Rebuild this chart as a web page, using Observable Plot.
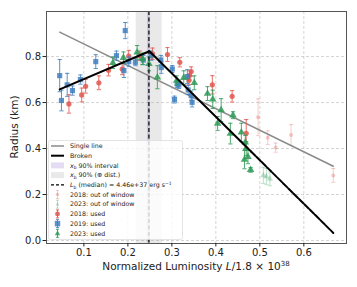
<!DOCTYPE html>
<html><head><meta charset="utf-8">
<script src="https://cdn.jsdelivr.net/npm/d3@7"></script>
<script src="https://cdn.jsdelivr.net/npm/@observablehq/plot@0.6"></script>
<style>
body{margin:0;background:#fff;font-family:"DejaVu Sans",sans-serif;}
#wrap{position:relative;width:357px;height:287px;overflow:hidden;}
#wrap svg.plot{position:absolute;left:0;top:0;}
#xlab{position:absolute;left:46px;width:300px;top:260px;line-height:12px;text-align:center;font-size:10.5px;color:#222;white-space:nowrap;}
#xlab sup{font-size:7px;vertical-align:4px;line-height:0;}
#ylab{position:absolute;left:14px;top:127px;transform:translate(-50%,-50%) rotate(-90deg);font-size:10.5px;color:#222;white-space:nowrap;}
#legend{position:absolute;left:0;top:0;}
</style></head><body>
<div id="wrap"></div>
<script>
// ---- data ----
const xTicks = [0.1, 0.2, 0.3, 0.4, 0.5, 0.6];
const yTicks = [0.0, 0.2, 0.4, 0.6, 0.8];

// 2019: used (blue squares)
const x2019 = [0.045,0.049,0.062,0.074,0.092,0.127,0.174,0.191,0.194,0.202,0.217,0.235,0.253,0.275,0.276,0.301,0.306,0.312,0.316,0.335,0.337,0.344,0.346];
const y2019 = [0.717,0.609,0.677,0.652,0.700,0.778,0.804,0.739,0.913,0.778,0.775,0.785,0.804,0.785,0.752,0.746,0.613,0.681,0.676,0.713,0.655,0.630,0.601];
const e2019 = [0.070,0.045,0.050,0.020,0.020,0.030,0.020,0.030,0.035,0.020,0.015,0.020,0.020,0.020,0.025,0.015,0.015,0.015,0.015,0.030,0.020,0.020,0.020];

// 2018: used (red circles)
const x2018 = [0.066,0.095,0.104,0.134,0.156,0.187,0.202,0.227,0.256,0.290,0.318,0.344,0.340,0.339,0.392,0.437,0.469];
const y2018 = [0.594,0.633,0.671,0.686,0.741,0.746,0.802,0.804,0.812,0.809,0.775,0.735,0.718,0.697,0.677,0.627,0.466];
const e2018 = [0.040,0.030,0.030,0.030,0.025,0.025,0.025,0.020,0.025,0.030,0.020,0.020,0.020,0.020,0.040,0.025,0.060];

// 2023: used (green triangles)
const x2023 = [0.166,0.190,0.221,0.233,0.248,0.267,0.311,0.327,0.351,0.381,0.393,0.412,0.404,0.439,0.433,0.458,0.469,0.465,0.473,0.479,0.467];
const y2023 = [0.773,0.795,0.818,0.790,0.768,0.710,0.696,0.708,0.686,0.639,0.614,0.567,0.509,0.545,0.465,0.470,0.400,0.352,0.364,0.307,0.427];
const e2023 = [0.025,0.025,0.030,0.025,0.030,0.050,0.020,0.030,0.030,0.030,0.040,0.050,0.030,0.015,0.045,0.040,0.030,0.040,0.030,0.010,0.030];

// out of window
const xOut2018 = [0.496,0.518,0.536,0.571,0.667];
const yOut2018 = [0.536,0.447,0.404,0.459,0.283];
const eOut2018 = [0.080,0.030,0.020,0.045,0.030];
const xOut2023 = [0.508,0.515,0.523];
const yOut2023 = [0.283,0.278,0.268];
const eOut2023 = [0.035,0.035,0.030];

// fits
const singleX = [0.045, 0.667];
const singleY = [0.906, 0.323];
const brokenX = [0.045, 0.249, 0.480];
const brokenY = [0.657, 0.823, 0.387];
const extrapX = [0.480, 0.667];
const extrapY = [0.387, 0.033];
const Lb = 0.2478;           // 4.46e37 / 1.8e38
const xbInterval = [0.2445, 0.2515];
const xbDist = [0.219, 0.278];

const colRed = "#e0574f", colBlue = "#3f7fc0", colGreen = "#2f9a57";

// ---- helpers ----
const pts = (xs, ys, es) => xs.map((x, i) => ({x, y: ys[i], e: es ? es[i] : 0}));
const line = (xs, ys) => xs.map((x, i) => ({x, y: ys[i]}));
const capSymbol = {draw(ctx, size) { const w = Math.sqrt(size); ctx.moveTo(-w, 0); ctx.lineTo(w, 0); }};

function errMarks(data, color, op) {
  return [
    Plot.ruleX(data, {x: "x", y1: d => d.y - d.e, y2: d => d.y + d.e, stroke: color, strokeOpacity: op, strokeWidth: 1}),
    Plot.dot(data, {x: "x", y: d => d.y - d.e, symbol: capSymbol, r: 1.2, stroke: color, strokeOpacity: op, fill: "none", strokeWidth: 1}),
    Plot.dot(data, {x: "x", y: d => d.y + d.e, symbol: capSymbol, r: 1.2, stroke: color, strokeOpacity: op, fill: "none", strokeWidth: 1})
  ];
}

const d2018 = pts(x2018, y2018, e2018), d2019 = pts(x2019, y2019, e2019), d2023 = pts(x2023, y2023, e2023);
const o2018 = pts(xOut2018, yOut2018, eOut2018), o2023 = pts(xOut2023, yOut2023, eOut2023);

const chart = Plot.plot({
  width: 357, height: 287,
  marginTop: 11, marginRight: 11, marginBottom: 44, marginLeft: 46,
  style: {fontFamily: "DejaVu Sans, sans-serif", fontSize: "10px", color: "#222", background: "#fff"},
  x: {domain: [0.015, 0.697]},
  y: {domain: [-0.013, 0.996]},
  marks: [
    Plot.gridX(xTicks, {stroke: "#aaa", strokeOpacity: 0.5, strokeDasharray: "3,2"}),
    Plot.gridY(yTicks, {stroke: "#aaa", strokeOpacity: 0.5, strokeDasharray: "3,2"}),
    Plot.rect([{a: xbDist[0], b: xbDist[1]}], {x1: "a", x2: "b", fill: "#999", fillOpacity: 0.22}),
    Plot.rect([{a: xbInterval[0], b: xbInterval[1]}], {x1: "a", x2: "b", fill: "#9575cd", fillOpacity: 0.3}),
    ...errMarks(o2018, colRed, 0.3),
    Plot.dot(o2018, {x: "x", y: "y", r: 2, fill: colRed, fillOpacity: 0.3}),
    ...errMarks(o2023, colGreen, 0.3),
    Plot.dot(o2023, {x: "x", y: "y", symbol: "triangle", r: 2.3, fill: colGreen, fillOpacity: 0.3}),
    Plot.line(line(singleX, singleY), {x: "x", y: "y", stroke: "#8a8a8a", strokeWidth: 1.5}),
    ...errMarks(d2018, colRed, 0.85),
    Plot.dot(d2018, {x: "x", y: "y", r: 2.6, fill: colRed, fillOpacity: 0.85}),
    ...errMarks(d2019, colBlue, 0.85),
    Plot.dot(d2019, {x: "x", y: "y", symbol: "square", r: 2.9, fill: colBlue, fillOpacity: 0.85}),
    ...errMarks(d2023, colGreen, 0.85),
    Plot.dot(d2023, {x: "x", y: "y", symbol: "triangle", r: 2.8, fill: colGreen, fillOpacity: 0.85}),
    Plot.line(line(brokenX, brokenY), {x: "x", y: "y", stroke: "#000", strokeWidth: 2}),
    Plot.line(line(extrapX, extrapY), {x: "x", y: "y", stroke: "#000", strokeWidth: 2, strokeDasharray: "6,1.5"}),
    Plot.ruleX([Lb], {stroke: "#000", strokeWidth: 1.2, strokeDasharray: "4,2.5"}),
    Plot.frame({stroke: "#555", strokeWidth: 1}),
    Plot.axisX(xTicks, {tickSize: 3.5, tickPadding: 2, tickFormat: d3.format(".1f"), label: null, fontSize: 10}),
    Plot.axisY(yTicks, {tickSize: 3.5, tickPadding: 2, tickFormat: d3.format(".1f"), label: null, fontSize: 10})
  ]
});
chart.classList.add("plot");
const wrap = document.getElementById("wrap");
wrap.appendChild(chart);

const xl = document.createElement("div");
xl.id = "xlab";
xl.innerHTML = "Normalized Luminosity <i>L</i>/1.8 × 10<sup>38</sup>";
wrap.appendChild(xl);
const yl = document.createElement("div");
yl.id = "ylab";
yl.textContent = "Radius (km)";
wrap.appendChild(yl);

// ---- legend (inside the axes, lower left) ----
const legendItems = [
  {kind: "line", color: "#8a8a8a", w: 1.5, label: "Single line"},
  {kind: "line", color: "#000", w: 2, label: "Broken"},
  {kind: "patch", color: "#9575cd", op: 0.25, label: "<tspan font-style='italic'>x</tspan><tspan font-size='4.5' dy='1.5'>b</tspan><tspan dy='-1.5'> 90% interval</tspan>"},
  {kind: "patch", color: "#999", op: 0.22, label: "<tspan font-style='italic'>x</tspan><tspan font-size='4.5' dy='1.5'>b</tspan><tspan dy='-1.5'> 90% (⊕ dist.)</tspan>"},
  {kind: "dash", color: "#000", label: "<tspan font-style='italic'>L</tspan><tspan font-size='4.5' dy='1.5'>b</tspan><tspan dy='-1.5'> (median) = 4.46e+37 erg s</tspan><tspan font-size='4.5' dy='-2.5'>−1</tspan>"},
  {kind: "pt", sym: "circle", color: colRed, op: 0.3, label: "2018: out of window"},
  {kind: "pt", sym: "triangle", color: colGreen, op: 0.3, label: "2023: out of window"},
  {kind: "pt", sym: "circle", color: colRed, op: 0.85, label: "2018: used"},
  {kind: "pt", sym: "square", color: colBlue, op: 0.85, label: "2019: used"},
  {kind: "pt", sym: "triangle", color: colGreen, op: 0.85, label: "2023: used"}
];
const ns = "http://www.w3.org/2000/svg";
const lg = document.createElementNS(ns, "svg");
lg.setAttribute("id", "legend");
lg.setAttribute("width", 357);
lg.setAttribute("height", 287);
let html = `<rect x="48.5" y="140.5" width="134" height="99" rx="2" fill="#fff" fill-opacity="0.8" stroke="#ddd" stroke-width="0.8"/>`;
const y0 = 146, dy = 9.7, hx = 57.5, tx = 70;
legendItems.forEach((it, i) => {
  const y = y0 + i * dy;
  if (it.kind === "line") html += `<line x1="51" x2="64" y1="${y}" y2="${y}" stroke="${it.color}" stroke-width="${it.w}"/>`;
  else if (it.kind === "dash") html += `<line x1="51" x2="64" y1="${y}" y2="${y}" stroke="${it.color}" stroke-width="1.2" stroke-dasharray="3,2"/>`;
  else if (it.kind === "patch") html += `<rect x="51" y="${y - 3}" width="13" height="6" fill="${it.color}" fill-opacity="${it.op}"/>`;
  else {
    html += `<line x1="${hx}" x2="${hx}" y1="${y - 4}" y2="${y + 4}" stroke="${it.color}" stroke-opacity="${it.op}"/>`;
    html += `<line x1="${hx - 1.5}" x2="${hx + 1.5}" y1="${y - 4}" y2="${y - 4}" stroke="${it.color}" stroke-opacity="${it.op}"/>`;
    html += `<line x1="${hx - 1.5}" x2="${hx + 1.5}" y1="${y + 4}" y2="${y + 4}" stroke="${it.color}" stroke-opacity="${it.op}"/>`;
    const sz = it.op < 0.5 ? 2 : 2.7;
    if (it.sym === "circle") html += `<circle cx="${hx}" cy="${y}" r="${sz * 0.9}" fill="${it.color}" fill-opacity="${it.op}"/>`;
    else if (it.sym === "square") html += `<rect x="${hx - sz}" y="${y - sz}" width="${2 * sz}" height="${2 * sz}" fill="${it.color}" fill-opacity="${it.op}"/>`;
    else html += `<path d="M${hx},${y - sz * 1.1}L${hx + sz},${y + sz * 0.7}L${hx - sz},${y + sz * 0.7}Z" fill="${it.color}" fill-opacity="${it.op}"/>`;
  }
  html += `<text x="${tx}" y="${y}" dy="0.35em" font-size="6.3" fill="#222" font-family="DejaVu Sans, sans-serif">${it.label}</text>`;
});
lg.innerHTML = html;
wrap.appendChild(lg);
</script>
</body></html>
